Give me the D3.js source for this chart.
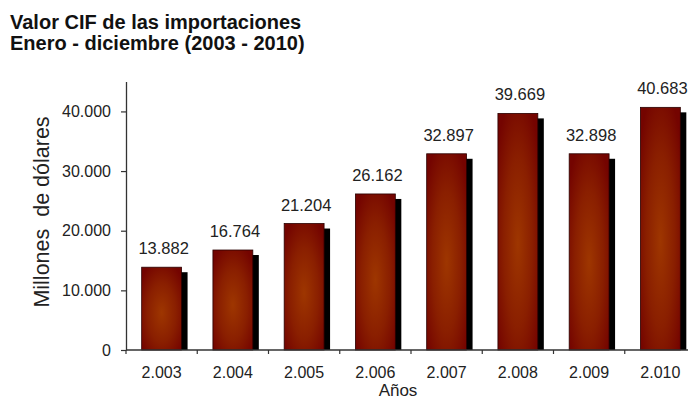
<!DOCTYPE html>
<html><head><meta charset="utf-8">
<script src="https://cdn.jsdelivr.net/npm/d3@7"></script>
<style>body{margin:0;background:#fff}svg{display:block}text{font-family:"Liberation Sans",Arial,sans-serif}</style>
</head><body>
<svg id="c" width="691" height="402"></svg>
<script>
const years = ["2.003","2.004","2.005","2.006","2.007","2.008","2.009","2.010"];
const values = [13882,16764,21204,26162,32897,39669,32898,40683];
const valueLabels = ["13.882","16.764","21.204","26.162","32.897","39.669","32.898","40.683"];
const yTicks = [0,10000,20000,30000,40000];
const yTickLabels = ["0","10.000","20.000","30.000","40.000"];
const titleLines = ["Valor CIF de las importaciones","Enero - diciembre (2003 - 2010)"];

const svg = d3.select("#c");
const W = 691, H = 402;
const left = 126, right = 696, base = 350;

const x = d3.scaleBand().domain(years).range([left, right]).paddingInner(0.44).paddingOuter(0.22);
const y = d3.scaleLinear().domain([0,45000]).range([base, 81.6]);

const defs = svg.append("defs");
const g = defs.append("radialGradient").attr("id","barg").attr("cx","50%").attr("cy","55%").attr("r","65%");
g.append("stop").attr("offset","0%").attr("stop-color","#9e3600");
g.append("stop").attr("offset","55%").attr("stop-color","#8a1f00");
g.append("stop").attr("offset","100%").attr("stop-color","#740400");
defs.append("clipPath").attr("id","clip").append("rect").attr("x",0).attr("y",0).attr("width",688).attr("height",H);

// title
svg.selectAll("text.title").data(titleLines).join("text")
  .attr("class","title").attr("x",10).attr("y",(d,i)=>29+i*21)
  .attr("font-size",20).attr("font-weight","bold").attr("fill","#111").text(d=>d);

const plot = svg.append("g").attr("clip-path","url(#clip)");
const data = years.map((d,i)=>({year:d,v:values[i],label:valueLabels[i]}));

// shadows
plot.selectAll("rect.sh").data(data).join("rect").attr("class","sh")
  .attr("x",d=>x(d.year)+6).attr("y",d=>y(d.v)+5)
  .attr("width",x.bandwidth()).attr("height",d=>base-y(d.v)-5).attr("fill","#000");
// bars
plot.selectAll("rect.bar").data(data).join("rect").attr("class","bar")
  .attr("x",d=>x(d.year)).attr("y",d=>y(d.v))
  .attr("width",x.bandwidth()).attr("height",d=>base-y(d.v))
  .attr("fill","url(#barg)").attr("stroke","#2a0000").attr("stroke-width",0.8);

// value labels
svg.selectAll("text.val").data(data).join("text").attr("class","val")
  .attr("x",d=>x(d.year)+x.bandwidth()/2+2).attr("y",d=>y(d.v)-13)
  .attr("text-anchor","middle").attr("font-size",16.5).attr("fill","#222").text(d=>d.label);

// y axis
const yAxis = d3.axisLeft(y).tickValues(yTicks).tickFormat((d,i)=>yTickLabels[i]).tickSize(5).tickSizeOuter(0).tickPadding(10);
const ya = svg.append("g").attr("transform",`translate(${left},0)`).call(yAxis);
ya.select(".domain").attr("stroke","#333").attr("stroke-width",1.3);
ya.selectAll(".tick line").attr("stroke","#333").attr("stroke-width",1.2);
ya.selectAll(".tick text").attr("font-size",16).attr("fill","#222").attr("font-family","Liberation Sans, Arial, sans-serif");

// x axis line
svg.append("line").attr("x1",left).attr("x2",688).attr("y1",base).attr("y2",base).attr("stroke","#333").attr("stroke-width",1.3);
const bounds = years.map(d=>x(d) - x.step()*x.paddingInner()/2);
svg.selectAll("line.xt").data(bounds).join("line").attr("class","xt")
  .attr("x1",d=>d).attr("x2",d=>d).attr("y1",base).attr("y2",base+4).attr("stroke","#333").attr("stroke-width",1.2);
svg.selectAll("text.xl").data(years).join("text").attr("class","xl")
  .attr("x",d=>x(d)+x.bandwidth()/2).attr("y",378).attr("text-anchor","middle")
  .attr("font-size",16).attr("fill","#222").text(d=>d);

// axis titles
svg.append("text").attr("x",398).attr("y",396).attr("text-anchor","middle").attr("font-size",17).attr("fill","#222").text("Años");
svg.append("text").attr("transform","translate(49,212) rotate(-90)").attr("text-anchor","middle")
  .attr("font-size",21.5).attr("fill","#222").attr("xml:space","preserve").style("white-space","pre").text("Millones  de dólares");
</script>
</body></html>
